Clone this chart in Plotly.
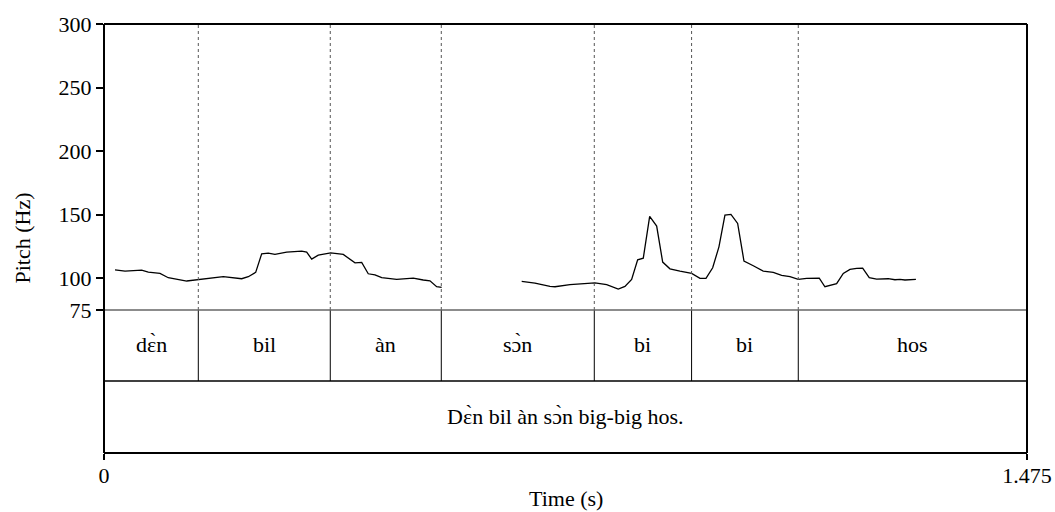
import plotly.graph_objects as go

# Pitch contour (Hz) over time (s), two voiced stretches
seg1_t = [0.0176, 0.0336, 0.0602, 0.0708, 0.0895, 0.1027, 0.1322, 0.1534, 0.1906, 0.2200,
          0.2306, 0.2424, 0.2520, 0.2625, 0.2732, 0.2919, 0.3159, 0.3239, 0.3319, 0.3424,
          0.3623, 0.3824, 0.4011, 0.4118, 0.4223, 0.4330, 0.4438, 0.4677, 0.4942, 0.5102,
          0.5209, 0.5316, 0.5396]
seg1_hz = [106.6, 105.6, 106.4, 104.8, 103.8, 100.4, 97.8, 99.1, 101.2, 99.6,
           101.2, 104.6, 119.2, 119.8, 118.7, 120.5, 121.3, 120.5, 115.1, 118.2,
           120.0, 118.7, 112.1, 112.5, 103.5, 102.7, 100.4, 99.1, 100.1, 98.6,
           98.0, 93.3, 92.8]
seg2_t = [0.6675, 0.6887, 0.7127, 0.7207, 0.7446, 0.7659, 0.7846, 0.8033, 0.8218, 0.8325,
          0.8432, 0.8528, 0.8618, 0.8720, 0.8832, 0.8928, 0.9044, 0.9204, 0.9391, 0.9524,
          0.9620, 0.9727, 0.9827, 0.9923, 1.0019, 1.0126, 1.0227, 1.0376, 1.0535, 1.0695,
          1.0829, 1.0962, 1.1095, 1.1229, 1.1430, 1.1521, 1.1708, 1.1814, 1.1921, 1.2028,
          1.2124, 1.2229, 1.2347, 1.2533, 1.2640, 1.2720, 1.2800, 1.2975]
seg2_hz = [97.5, 96.2, 93.6, 93.3, 94.9, 95.4, 96.4, 94.9, 91.5, 93.6,
           99.1, 114.5, 115.8, 148.6, 141.0, 112.7, 107.4, 105.6, 103.8, 99.9,
           99.9, 108.2, 124.7, 149.6, 150.2, 143.1, 113.5, 109.8, 105.6, 104.6,
           102.3, 101.2, 99.1, 99.9, 100.1, 93.3, 95.7, 103.8, 107.0, 107.7,
           108.0, 100.4, 99.3, 99.6, 98.8, 99.1, 98.6, 99.1]

# TextGrid tiers
word_bounds = [0.0, 0.1507, 0.3616, 0.5390, 0.7835, 0.9390, 1.1095, 1.475]
word_labels = ["dɛ̀n", "bil", "àn", "sɔ̀n", "bi", "bi", "hos"]
sentence_label = "Dɛ̀n bil àn sɔ̀n big-big hos."

t_max = 1.475
pitch_min, pitch_max = 75, 300
pitch_ticks = [75, 100, 150, 200, 250, 300]

FONT = "Liberation Serif"
FS = 22

# vertical layout in paper units: pitch panel on top, two tiers below
pitch_bottom = 143 / 429
tier_split = 72 / 429

xs = seg1_t + [None] + seg2_t
ys = seg1_hz + [None] + seg2_hz

fig = go.Figure()
fig.add_trace(go.Scatter(x=xs, y=ys, mode="lines",
                         line=dict(color="black", width=1.3),
                         connectgaps=False, hoverinfo="skip", showlegend=False))

shapes = []
# dotted boundaries in the pitch panel, solid ones in the word tier
for b in word_bounds[1:-1]:
    shapes.append(dict(type="line", xref="x", yref="paper", x0=b, x1=b,
                       y0=pitch_bottom, y1=1, line=dict(color="#555", width=1, dash="dot")))
    shapes.append(dict(type="line", xref="x", yref="paper", x0=b, x1=b,
                       y0=tier_split, y1=pitch_bottom, line=dict(color="black", width=1)))
# horizontal separators
shapes.append(dict(type="line", xref="paper", yref="paper", x0=0, x1=1,
                   y0=pitch_bottom, y1=pitch_bottom, line=dict(color="#666", width=1.5)))
shapes.append(dict(type="line", xref="paper", yref="paper", x0=0, x1=1,
                   y0=tier_split, y1=tier_split, line=dict(color="black", width=1.5)))
# frame
shapes.append(dict(type="line", xref="paper", yref="paper", x0=0, x1=1,
                   y0=1, y1=1, line=dict(color="black", width=2)))
shapes.append(dict(type="line", xref="paper", yref="paper", x0=1, x1=1,
                   y0=0, y1=1, line=dict(color="black", width=2)))
shapes.append(dict(type="line", xref="paper", yref="paper", x0=0, x1=0,
                   y0=0, y1=1, line=dict(color="black", width=2)))

annotations = []
for i, lab in enumerate(word_labels):
    mid = (word_bounds[i] + word_bounds[i + 1]) / 2
    annotations.append(dict(x=mid, y=(tier_split + pitch_bottom) / 2, xref="x", yref="paper",
                            yshift=1, text=lab, showarrow=False, xanchor="center", yanchor="middle",
                            font=dict(family=FONT, size=FS, color="black")))
annotations.append(dict(x=t_max / 2, y=tier_split / 2, xref="x", yref="paper", yshift=1,
                        text=sentence_label, showarrow=False, xanchor="center", yanchor="middle",
                        font=dict(family=FONT, size=FS, color="black")))
annotations.append(dict(x=0, y=0.5, xref="paper", yref="paper", xshift=-82,
                        text="Pitch (Hz)", textangle=-90, showarrow=False,
                        xanchor="center", yanchor="middle",
                        font=dict(family=FONT, size=FS, color="black")))
annotations.append(dict(x=0.5, y=0, xref="paper", yref="paper", yshift=-45,
                        text="Time (s)", showarrow=False, xanchor="center", yanchor="middle",
                        font=dict(family=FONT, size=FS, color="black")))

fig.update_layout(
    width=1055, height=512,
    margin=dict(l=104, r=28, t=24, b=59, autoexpand=False),
    paper_bgcolor="white", plot_bgcolor="white",
    font=dict(family=FONT, size=FS, color="black"),
    xaxis=dict(range=[0, t_max], domain=[0, 1], anchor="free", position=0, automargin=False,
               showgrid=False, zeroline=False, showline=True, linecolor="black", linewidth=2,
               ticks="outside", ticklen=6, tickwidth=1.5, tickcolor="black",
               ticklabelstandoff=-3,
               tickvals=[0, t_max], ticktext=["0", "1.475"],
               tickfont=dict(family=FONT, size=FS, color="black")),
    yaxis=dict(range=[pitch_min, pitch_max], domain=[pitch_bottom, 1], automargin=False,
               showgrid=False, zeroline=False, showline=False,
               ticks="outside", ticklen=7, tickwidth=1.5, tickcolor="black",
               tickvals=pitch_ticks, ticktext=[str(v) for v in pitch_ticks],
               tickfont=dict(family=FONT, size=FS, color="black")),
    shapes=shapes,
    annotations=annotations,
    showlegend=False,
)

fig.write_html("out.html")
